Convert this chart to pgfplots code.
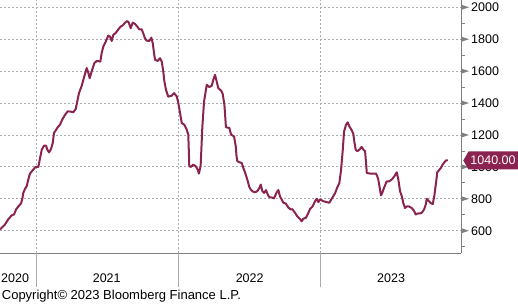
\documentclass[border=0pt]{standalone}
\usepackage{pgfplots}
\pgfplotsset{compat=1.18}
\usepackage{fontspec}
\setmainfont{Liberation Sans}
\definecolor{linec}{RGB}{139,35,80}
\definecolor{axgray}{RGB}{128,128,128}
\definecolor{gridc}{RGB}{170,170,170}
\newcommand{\lblfont}{\fontsize{12.5}{14}\selectfont}
% x = years since 1 Jan 2020
\begin{document}
\begin{tikzpicture}
\path[use as bounding box] (0pt,-51.7pt) rectangle (518pt,253.3pt);
\begin{axis}[
  at={(0pt,0pt)}, anchor=south west,
  scale only axis, width=461pt, height=253.3pt,
  xmin=0.743, xmax=3.987, ymin=458.4, ymax=2045.7,
  axis x line*=bottom, axis y line*=right,
  axis line style={axgray, line width=0.9pt},
  clip=false,
  xtick=\empty,
  minor xtick={0.75,1,1.25,1.5,1.75,2,2.25,2.5,2.75,3,3.25,3.5,3.75},
  extra x ticks={1,2,3},
  extra x tick labels={},
  extra x tick style={grid=major, major tick length=33.4pt, tick style={solid, color=gridc, line width=0.9pt}},
  ytick={600,800,1000,1200,1400,1600,1800,2000},
  minor ytick={500,700,900,1100,1300,1500,1700,1900},
  ymajorgrids,
  major grid style={gridc, dash pattern=on 2pt off 2pt, line width=0.8pt},
  tick align=outside,
  major tick length=4pt, minor tick length=3.5pt,
  tick style={axgray, line width=0.8pt},
  /pgf/number format/1000 sep={},
  /pgf/number format/assume math mode=true,
  yticklabel style={font=\lblfont, inner sep=0pt, anchor=west, xshift=6pt},
]
\addplot[linec, line width=2pt, line join=round] table {
0.743 608
0.778 639
0.801 671
0.825 696
0.842 702
0.856 733
0.872 752
0.891 771
0.900 800
0.907 837
0.919 862
0.931 879
0.942 921
0.954 958
0.977 983
0.991 998
1.013 1000
1.025 1056
1.037 1108
1.053 1133
1.067 1133
1.076 1108
1.088 1091
1.102 1112
1.114 1150
1.123 1212
1.149 1248
1.165 1264
1.181 1296
1.200 1325
1.219 1348
1.243 1346
1.259 1342
1.276 1363
1.290 1425
1.299 1463
1.318 1508
1.336 1566
1.353 1619
1.364 1591
1.374 1556
1.388 1598
1.407 1650
1.424 1664
1.449 1660
1.459 1716
1.470 1754
1.487 1785
1.505 1823
1.517 1816
1.529 1789
1.540 1827
1.559 1841
1.576 1862
1.592 1879
1.607 1887
1.623 1904
1.639 1914
1.649 1904
1.663 1869
1.677 1904
1.693 1896
1.709 1879
1.723 1862
1.740 1862
1.751 1837
1.763 1806
1.775 1791
1.794 1789
1.808 1810
1.818 1775
1.827 1712
1.834 1671
1.853 1664
1.869 1681
1.881 1660
1.892 1598
1.899 1540
1.911 1483
1.927 1440
1.951 1446
1.968 1462
1.987 1441
1.998 1400
2.010 1337
2.022 1275
2.040 1264
2.057 1233
2.068 1202
2.075 1004
2.087 1000
2.103 1014
2.120 1004
2.134 983
2.143 958
2.155 1008
2.167 1254
2.179 1410
2.198 1514
2.216 1500
2.233 1508
2.244 1546
2.256 1577
2.268 1535
2.279 1493
2.298 1479
2.310 1458
2.322 1390
2.333 1248
2.357 1244
2.369 1202
2.390 1191
2.402 1129
2.407 1071
2.413 1035
2.427 1029
2.444 1025
2.455 994
2.467 966
2.474 946
2.483 921
2.497 875
2.507 858
2.521 846
2.538 841
2.554 848
2.568 868
2.578 889
2.589 848
2.601 837
2.615 854
2.627 827
2.638 810
2.655 808
2.671 803
2.690 840
2.702 855
2.713 815
2.725 796
2.737 775
2.754 770
2.772 745
2.789 733
2.800 735
2.819 712
2.835 690
2.854 673
2.866 659
2.877 675
2.896 681
2.913 712
2.925 737
2.944 754
2.960 785
2.972 800
2.983 779
2.995 796
3.018 785
3.042 779
3.060 775
3.077 800
3.101 835
3.117 873
3.131 898
3.143 981
3.155 1106
3.164 1221
3.178 1264
3.190 1279
3.201 1254
3.218 1229
3.229 1208
3.236 1160
3.246 1108
3.257 1098
3.272 1108
3.288 1125
3.300 1108
3.312 1098
3.319 1025
3.324 962
3.347 958
3.370 958
3.389 958
3.398 941
3.405 921
3.417 858
3.424 821
3.433 837
3.445 868
3.464 909
3.481 909
3.500 921
3.518 941
3.535 966
3.546 921
3.558 848
3.570 817
3.581 773
3.593 742
3.605 752
3.621 752
3.640 742
3.656 725
3.668 702
3.682 708
3.699 708
3.711 712
3.727 733
3.739 764
3.746 800
3.757 789
3.774 773
3.788 767
3.799 817
3.811 899
3.820 966
3.832 979
3.846 994
3.858 1014
3.870 1029
3.882 1041
3.894 1040
};
\pgfplotsinvokeforeach{600,800,1000,1200,1400,1600,1800,2000}{
  \fill[axgray] (axis cs:3.987,#1) ++(0pt,2.7pt) -- ++(8pt,-2.7pt) -- ++(-8pt,-2.7pt) -- cycle;
}
\node[font=\lblfont, yshift=-24.7pt] at (axis cs:0.849,458.4) {2020};
\node[font=\lblfont, yshift=-24.7pt] at (axis cs:1.494,458.4) {2021};
\node[font=\lblfont, yshift=-24.7pt] at (axis cs:2.500,458.4) {2022};
\node[font=\lblfont, yshift=-24.7pt] at (axis cs:3.495,458.4) {2023};
\fill[linec] (axis cs:3.987,1040) ++(2.3pt,0pt) -- ++(5.2pt,9pt) -- ++(52pt,0pt) -- ++(0pt,-18pt) -- ++(-52pt,0pt) -- cycle;
\node[text=white, font=\lblfont, inner sep=0pt, xshift=32pt] at (axis cs:3.987,1040) {1040.00};
\node[anchor=west, font=\fontsize{13}{15}\selectfont, inner sep=0pt, xshift=1.7pt, yshift=-42.7pt] at (rel axis cs:0,0) {Copyright© 2023 Bloomberg Finance L.P.};
\end{axis}
\end{tikzpicture}
\end{document}
